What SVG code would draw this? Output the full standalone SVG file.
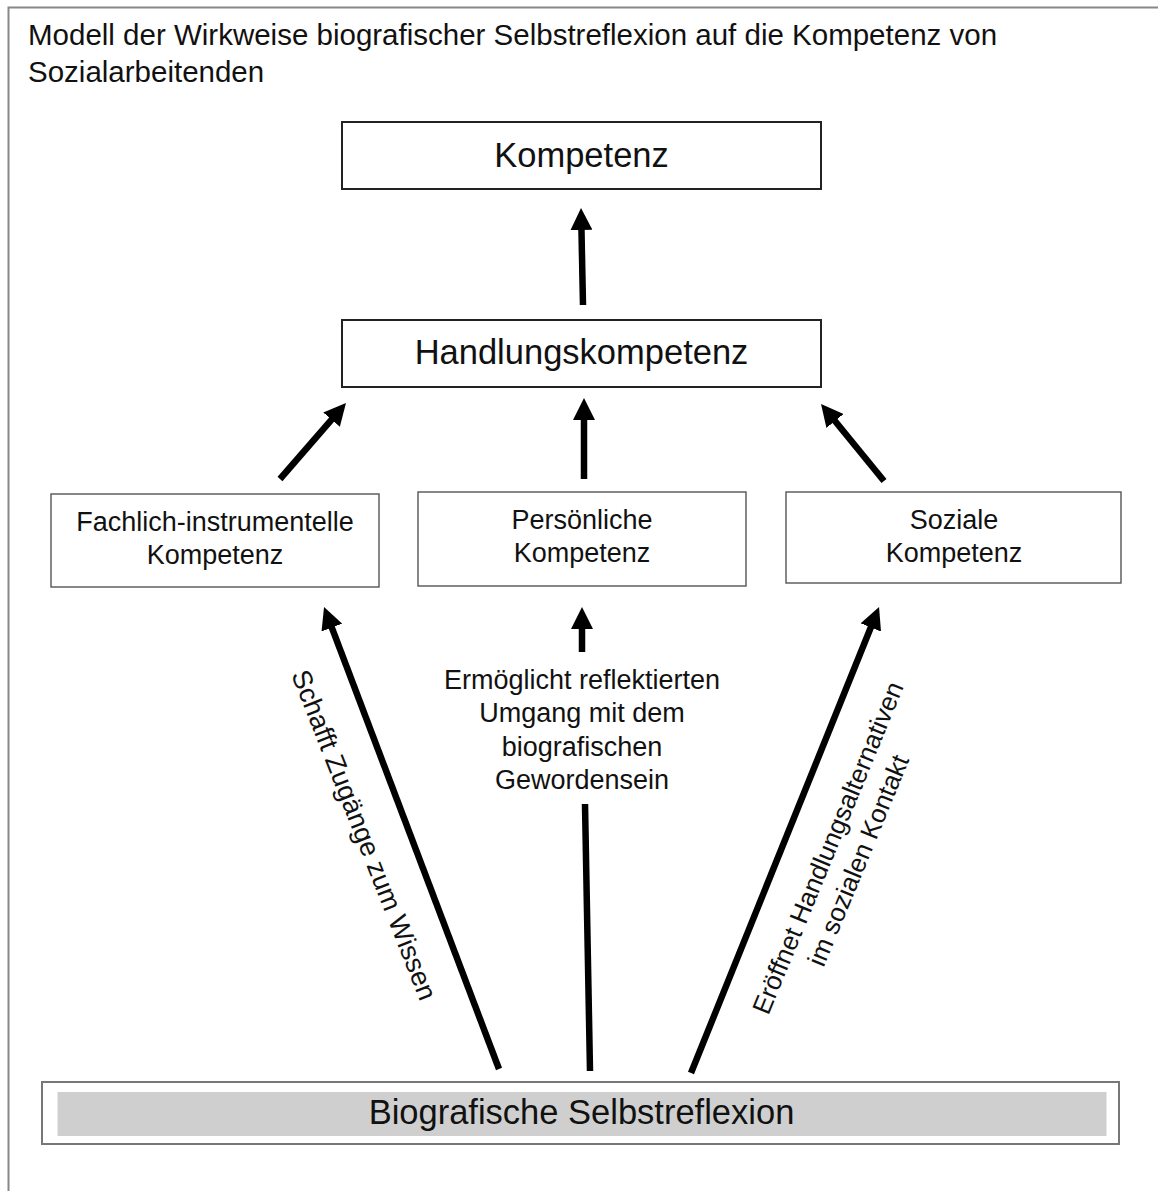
<svg xmlns="http://www.w3.org/2000/svg" width="1158" height="1191" viewBox="0 0 1158 1191">
<style>
text{font-family:"Liberation Sans",Arial,sans-serif;fill:#111;}
.big{font-size:34.5px;text-anchor:middle;}
.mid{font-size:27px;text-anchor:middle;}
.rot{font-size:26px;text-anchor:middle;}
.title{font-size:29.5px;}
.box1{fill:#fff;stroke:#222;stroke-width:2;}
.box2{fill:#fff;stroke:#555;stroke-width:1.4;}
.arr{stroke:#000;stroke-width:6.5;fill:none;marker-end:url(#ah);}
.ln{stroke:#000;stroke-width:6.5;fill:none;}
</style>
<defs>
<marker id="ah" markerUnits="userSpaceOnUse" markerWidth="22" markerHeight="22" viewBox="0 0 22 22" refX="8" refY="11" orient="auto">
<path d="M0,0 L22,11 L0,22 z" fill="#000"/>
</marker>
</defs>
<rect width="1158" height="1191" fill="#fff"/>
<rect x="8.5" y="7.5" width="1200" height="1220" fill="none" stroke="#888" stroke-width="2"/>
<g id="title">
<text class="title" x="28" y="45">Modell der Wirkweise biografischer Selbstreflexion auf die Kompetenz von</text>
<text class="title" x="28" y="82">Sozialarbeitenden</text>
</g>
<g id="kompetenz">
<rect class="box1" x="342" y="122" width="479" height="67"/>
<text class="big" x="581.5" y="167">Kompetenz</text>
</g>
<g id="handlungskompetenz">
<rect class="box1" x="342" y="320" width="479" height="67"/>
<text class="big" x="581.5" y="364">Handlungskompetenz</text>
</g>
<g id="fachlich">
<rect class="box2" x="51" y="494" width="328" height="93"/>
<text class="mid" x="215" y="531">Fachlich-instrumentelle</text>
<text class="mid" x="215" y="564">Kompetenz</text>
</g>
<g id="persoenlich">
<rect class="box2" x="418" y="492" width="328" height="94"/>
<text class="mid" x="582" y="529">Persönliche</text>
<text class="mid" x="582" y="562">Kompetenz</text>
</g>
<g id="sozial">
<rect class="box2" x="786" y="492" width="335" height="91"/>
<text class="mid" x="954" y="529">Soziale</text>
<text class="mid" x="954" y="562">Kompetenz</text>
</g>
<g id="biografisch">
<rect x="42" y="1082" width="1077" height="62" fill="#fff" stroke="#777" stroke-width="2"/>
<rect x="57.5" y="1092" width="1049" height="44" fill="#d0cfd0"/>
<text class="big" x="581.5" y="1124">Biografische Selbstreflexion</text>
</g>
<g id="connectors">
<line class="arr" x1="583" y1="305" x2="581.3" y2="222"/>
<line class="arr" x1="280" y1="479" x2="336.8" y2="413.6"/>
<line class="arr" x1="584" y1="479" x2="584" y2="412"/>
<line class="arr" x1="884" y1="481" x2="829.9" y2="414.8"/>
<line class="arr" x1="499" y1="1069" x2="329" y2="620.1"/>
<line class="ln" x1="590" y1="1071" x2="585" y2="804"/>
<line class="arr" x1="582" y1="652" x2="582" y2="621"/>
<line class="arr" x1="691" y1="1073" x2="873.8" y2="620"/>
</g>
<g id="labels">
<text class="mid" x="582" y="689">Ermöglicht reflektierten</text>
<text class="mid" x="582" y="722">Umgang mit dem</text>
<text class="mid" x="582" y="756">biografischen</text>
<text class="mid" x="582" y="789">Gewordensein</text>
<g transform="translate(364,835) rotate(68.5)">
<text class="mid" x="0" y="9">Schafft Zugänge zum Wissen</text>
</g>
<g transform="translate(843,854) rotate(-67.6)">
<text class="rot" x="0" y="-7.5">Eröffnet Handlungsalternativen</text>
<text class="rot" x="0" y="25.5">im sozialen Kontakt</text>
</g>
</g>
</svg>
